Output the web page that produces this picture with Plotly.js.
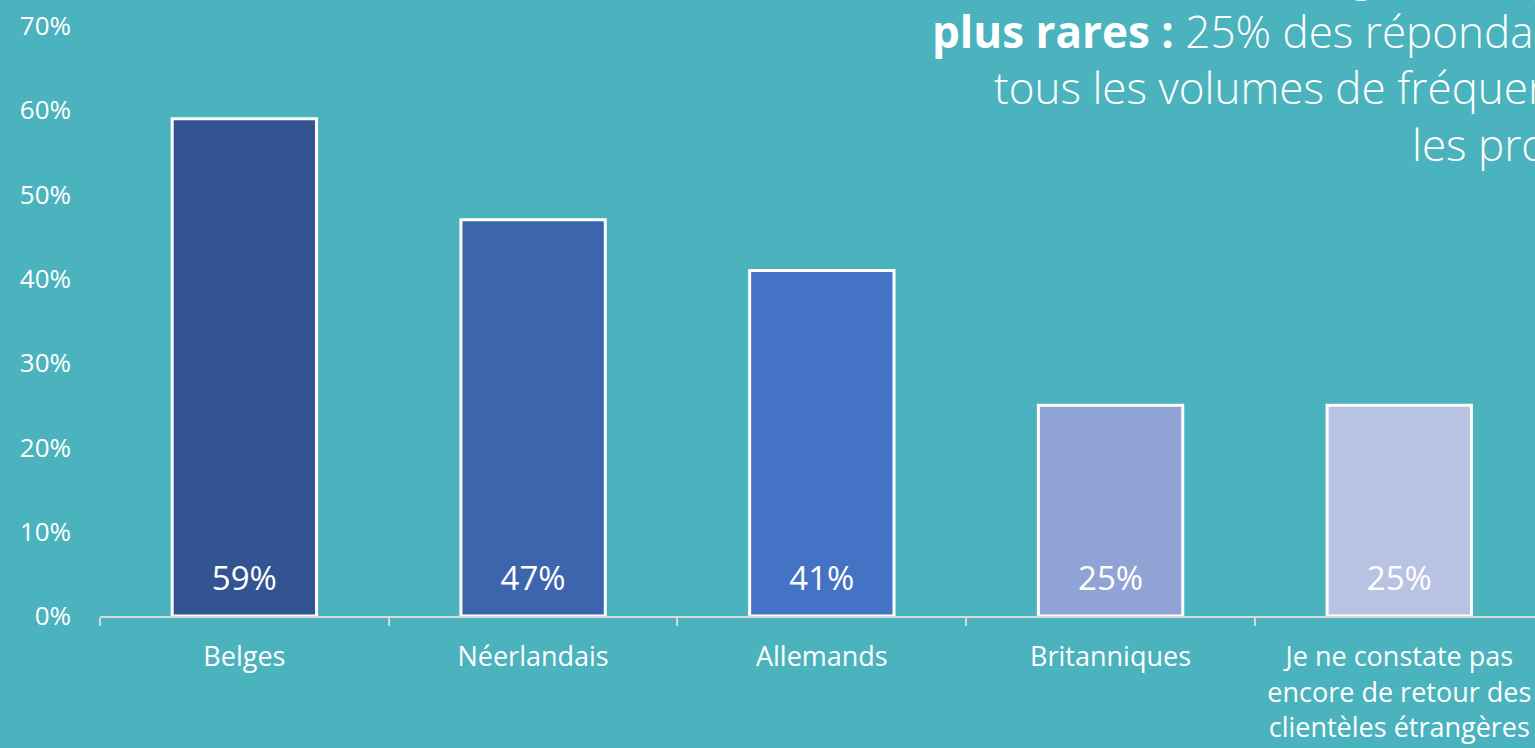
<!DOCTYPE html>
<html>
<head>
<meta charset="utf-8">
<script src="https://cdn.plot.ly/plotly-3.0.1.min.js"></script>
<style>
html,body{margin:0;padding:0;background:#4AB3BD;overflow:hidden;}
#chart{width:1535px;height:748px;}
</style>
</head>
<body>
<div id="chart"></div>
<script>
const categories = ["Belges", "Néerlandais", "Allemands", "Britanniques", "Je ne constate pas<br>encore de retour des<br>clientèles étrangères"];
const values = [59, 47, 41, 25, 25];
const barColors = ["#325592", "#3C65AD", "#4472C4", "#8FA3D4", "#B8C2E2"];
const yTickVals = [0, 10, 20, 30, 40, 50, 60, 70];
const yTickText = ["0%", "10%", "20%", "30%", "40%", "50%", "60%", "70%"];
const headlineLines = [
  "Des clientèles étrangères toujours",
  "<b>plus rares :</b> 25% des répondants",
  "tous les volumes de fréquentation",
  "les professionnels"
];

const FONT = "'Open Sans', 'Noto Sans', sans-serif";
const L = 100, W = 1535;
const px2paper = p => (p - L) / (W - L);

const bars = {
  type: "bar",
  x: categories,
  y: values,
  marker: {color: barColors, line: {color: "#FFFFFF", width: 3}},
  hoverinfo: "none",
  showlegend: false
};
const labels = {
  type: "scatter",
  mode: "text",
  x: categories,
  y: values.map(() => 4.1),
  text: values.map(v => v + "%"),
  textposition: "middle center",
  textfont: {family: FONT, size: 33, color: "#FFFFFF"},
  hoverinfo: "none",
  showlegend: false
};

const headX = [960, 930, 992, 1410];
const headY = [-26, 31, 87, 144];
const annotations = headlineLines.map((t, i) => ({
  xref: "paper", yref: "paper",
  x: px2paper(headX[i]), y: 1 - (headY[i] - 26) / 590,
  xanchor: "left", yanchor: "middle",
  text: t, showarrow: false,
  font: {family: FONT, size: 44, color: "#FFFFFF", weight: 300}
}));

const layout = {
  width: 1535, height: 748,
  margin: {l: L, r: 0, t: 26, b: 132},
  paper_bgcolor: "#4AB3BD",
  plot_bgcolor: "#4AB3BD",
  bargap: 0.5,
  xaxis: {
    type: "category",
    range: [-0.5, 4.47],
    showgrid: false, zeroline: false,
    showline: true, linecolor: "#D9D9D9", linewidth: 2,
    ticks: "outside", tickson: "boundaries", ticklen: 8, tickwidth: 2, tickcolor: "#D9D9D9",
    tickfont: {family: FONT, size: 27, color: "#FFFFFF"},
    ticklabelstandoff: 16
  },
  yaxis: {
    range: [0, 70],
    tickvals: yTickVals, ticktext: yTickText,
    showgrid: false, zeroline: false, showline: false,
    ticks: "",
    tickfont: {family: FONT, size: 26, color: "#FFFFFF"},
    ticklabelstandoff: 28
  },
  annotations: annotations,
  font: {family: FONT, color: "#FFFFFF"}
};

Plotly.newPlot("chart", [bars, labels], layout, {displayModeBar: false, staticPlot: true});
</script>
</body>
</html>
